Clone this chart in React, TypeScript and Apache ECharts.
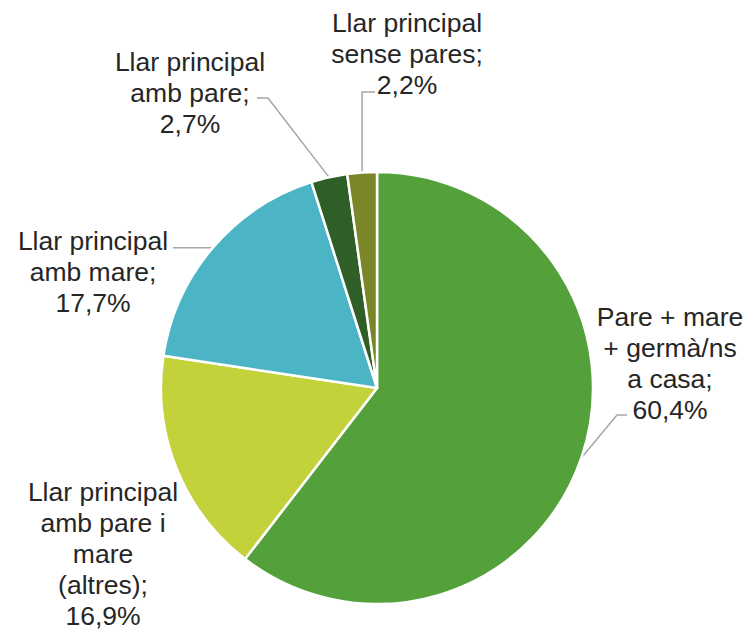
import React, { useEffect, useRef } from "react";
import * as echarts from "echarts";

const categories = [
  "Pare + mare + germà/ns a casa",
  "Llar principal amb pare i mare (altres)",
  "Llar principal amb mare",
  "Llar principal amb pare",
  "Llar principal sense pares",
];
const labelTexts = [
  "Pare + mare\n+ germà/ns\na casa;",
  "Llar principal\namb pare i\nmare\n(altres);",
  "Llar principal\namb mare;",
  "Llar principal\namb pare;",
  "Llar principal\nsense pares;",
];
const values = [60.4, 16.9, 17.7, 2.7, 2.2];
const colors = ["#54a03b", "#c3d13b", "#4bb4c5", "#2f5f27", "#7a8628"];
const showLine = [true, false, true, true, true];
// label centre positions (layout)
const labelPos = [
  [670, 363],
  [103, 554],
  [93, 272],
  [190, 93],
  [407, 54],
];

function linePoints(i: number, edge: number[]): number[][] {
  const [lx, ly] = labelPos[i];
  switch (i) {
    case 0: {
      const end = [lx - 43, ly + 52];
      return [edge, [end[0] - 10, end[1]], end];
    }
    case 2: {
      const end = [lx + 80, edge[1]];
      return [edge, end, end];
    }
    case 3: {
      const end = [lx + 67, ly + 5];
      return [edge, [end[0] + 11, end[1]], end];
    }
    case 4: {
      const end = [lx - 32, ly + 38];
      return [edge, [edge[0], end[1]], end];
    }
    default:
      return [edge, edge, edge];
  }
}

export default function App() {
  const ref = useRef<HTMLDivElement>(null);
  useEffect(() => {
    const chart = echarts.init(ref.current!, null, { renderer: "svg" });
    chart.setOption({
      animation: false,
      backgroundColor: "#ffffff",
      series: [
        {
          type: "pie",
          center: [377, 388],
          radius: [0, 216],
          startAngle: 90,
          clockwise: true,
          avoidLabelOverlap: false,
          itemStyle: { borderColor: "#ffffff", borderWidth: 2.5 },
          label: {
            show: true,
            position: "outside",
            fontFamily: "Liberation Sans, Arial, sans-serif",
            fontSize: 26.5,
            lineHeight: 31,
            color: "#262626",
            align: "center",
            formatter: (p: any) =>
              labelTexts[p.dataIndex] +
              "\n" +
              values[p.dataIndex].toFixed(1).replace(".", ",") +
              "%",
          },
          labelLine: {
            show: true,
            length: 15,
            length2: 15,
            lineStyle: { color: "#a6a6a6", width: 1.5 },
          },
          labelLayout: (params: any) => {
            const i = params.dataIndex;
            const pos = labelPos[i];
            const res: any = {
              x: pos[0],
              y: pos[1],
              align: "center",
              verticalAlign: "middle",
            };
            if (showLine[i] && params.labelLinePoints) {
              res.labelLinePoints = linePoints(i, params.labelLinePoints[0]);
            }
            return res;
          },
          data: categories.map((c, i) => ({
            name: c,
            value: values[i],
            itemStyle: { color: colors[i] },
            labelLine: { show: showLine[i] },
          })),
        },
      ],
    });
    return () => chart.dispose();
  }, []);
  return (
    <div
      ref={ref}
      style={{ position: "fixed", left: 0, top: 0, width: 747, height: 634 }}
    />
  );
}
